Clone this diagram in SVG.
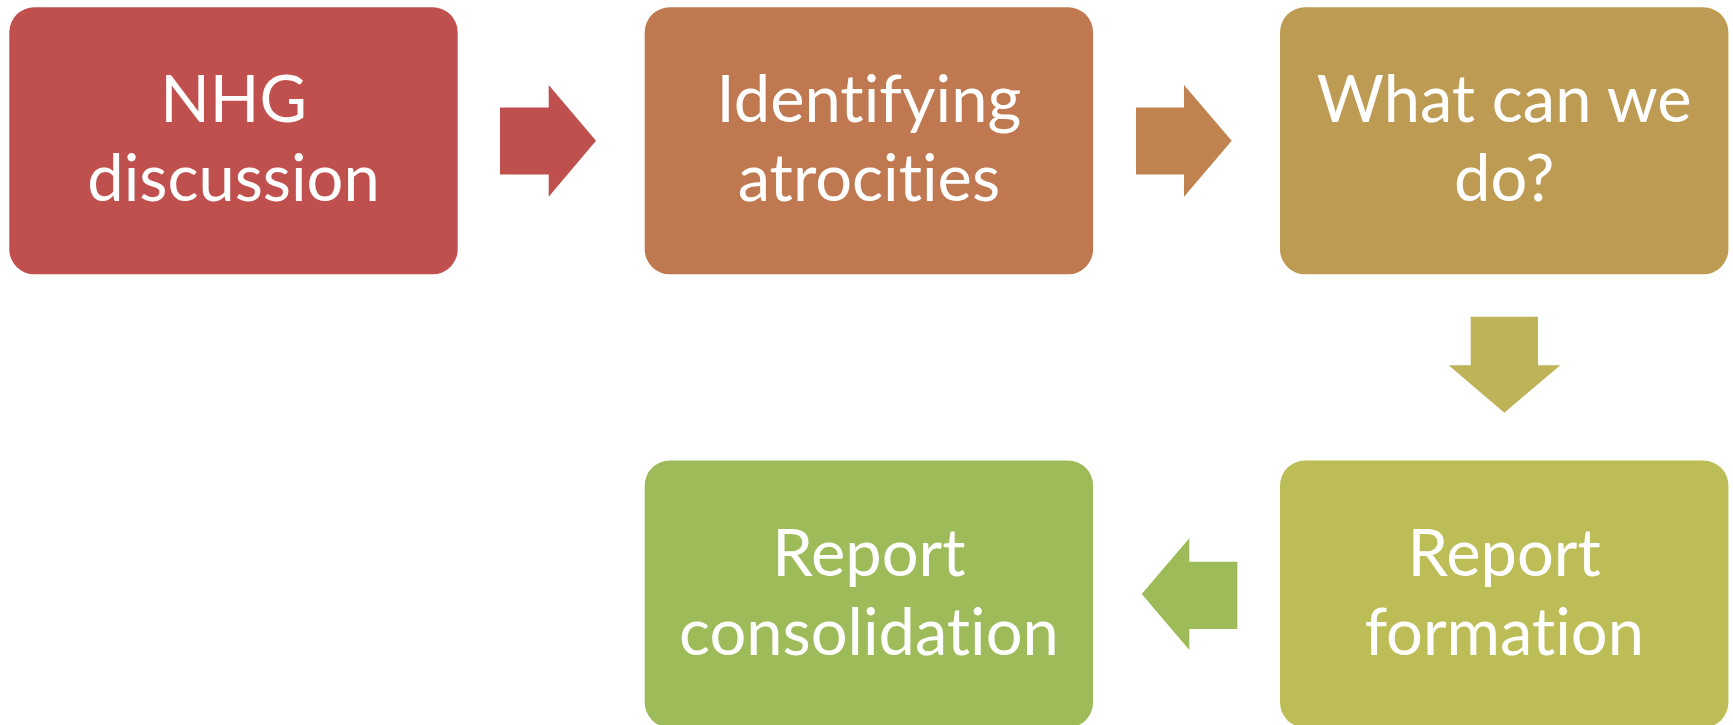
<svg xmlns="http://www.w3.org/2000/svg" width="1733" height="725" viewBox="0 0 1733 725">
<style>
.box{stroke:none}
.lbl{font-family:Lato,"Open Sans","Liberation Sans",sans-serif;font-size:65px;fill:#FFFFFF;text-anchor:middle;font-variant-ligatures:none;font-feature-settings:"liga" 0,"clig" 0,"dlig" 0}
</style>
<rect width="1733" height="725" fill="#FFFFFF"/>
<g id="connectors">
<polygon points="500,107.5 548.7,107.5 548.7,85 596,140.8 548.7,196.7 548.7,174.5 500,174.5" fill="#C0504D"/>
<polygon points="1136,107.5 1184,107.5 1184,85 1231.7,140.8 1184,196.7 1184,174.5 1136,174.5" fill="#C0824F"/>
<polygon points="1470.7,316.7 1538,316.7 1538,365.3 1560.3,365.3 1504.3,412.7 1448.7,365.3 1470.7,365.3" fill="#BEB358"/>
<polygon points="1237.3,561.7 1189.3,561.7 1189.3,538.3 1141.7,594 1189.3,650 1189.3,629 1237.3,629" fill="#9EBB59"/>
</g>
<g id="node1">
<rect class="box" x="9.3" y="7.3" width="448.4" height="267" rx="25" fill="#C0504D"/>
<text class="lbl" x="233.5" y="121.7">NHG</text>
<text class="lbl" x="233.5" y="201">discussion</text>
</g>
<g id="node2">
<rect class="box" x="644.7" y="7.3" width="448.4" height="267" rx="25" fill="#BF7850"/>
<text class="lbl" x="868.9" y="121.7">Identifying</text>
<text class="lbl" x="868.9" y="201">atrocities</text>
</g>
<g id="node3">
<rect class="box" x="1280" y="7.3" width="448.4" height="267" rx="25" fill="#BE9B53"/>
<text class="lbl" x="1504.2" y="121.7">What can we</text>
<text class="lbl" x="1504.2" y="201">do?</text>
</g>
<g id="node4">
<rect class="box" x="1280" y="460.5" width="448.4" height="267" rx="25" fill="#BDBD58"/>
<text class="lbl" x="1504.2" y="575.5">Report</text>
<text class="lbl" x="1504.2" y="655">formation</text>
</g>
<g id="node5">
<rect class="box" x="644.7" y="460.5" width="448.4" height="267" rx="25" fill="#9DBB59"/>
<text class="lbl" x="868.9" y="575.5">Report</text>
<text class="lbl" x="868.9" y="655">consolidation</text>
</g>
</svg>
